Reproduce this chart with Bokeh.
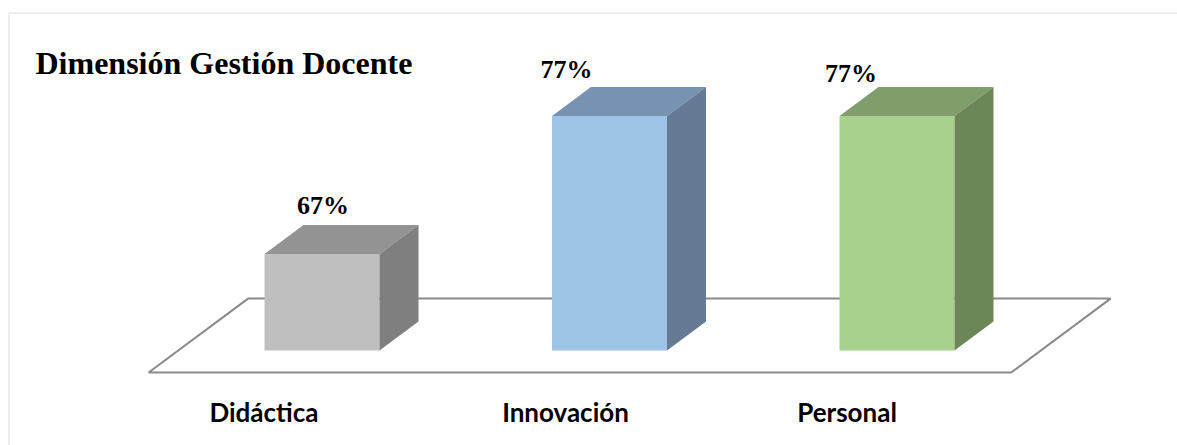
from bokeh.plotting import figure
from bokeh.models import Range1d, BoxAnnotation
from bokeh.core.properties import value
from bokeh.embed import file_html
from bokeh.resources import INLINE

# ---- data ----
categories = ["Didáctica", "Innovación", "Personal"]
percentages = [67, 77, 77]
value_labels = ["67%", "77%", "77%"]
title_text = "Dimensión Gestión Docente"
axis_floor = 60  # value at which the bars start

# ---- style / layout ----
front_colors = ["#BFBFBF", "#9DC3E6", "#A9D18E"]
top_colors = ["#939393", "#7893B1", "#809E6C"]
side_colors = ["#7F7F7F", "#647B93", "#6C8658"]

W, H = 1177, 445
PX_X = 287.5      # pixels per category step
PX_Y = 13.8       # pixels per percentage point
X0_PX = 321.5     # screen x of first category
BASE_PX = 350     # screen y of the value axis_floor

x_start = -X0_PX / PX_X
x_end = (W - X0_PX) / PX_X
y_top = axis_floor + BASE_PX / PX_Y
y_bot = axis_floor - (H - BASE_PX) / PX_Y

half_w = 0.2
ddx = 39 / PX_X        # depth offset in x (data units)
ddy = 29 / PX_Y        # depth offset in y (data units)
floor_front = -0.76    # floor depth extents in bar-depth units
floor_back = 1.79

p = figure(width=W, height=H, output_backend="svg", toolbar_location=None,
           x_range=Range1d(x_start, x_end), y_range=Range1d(y_bot, y_top),
           min_border=0, outline_line_color=None)
p.xaxis.visible = False
p.yaxis.visible = False
p.xgrid.visible = False
p.ygrid.visible = False
p.background_fill_color = "white"
p.border_fill_color = "white"

# outer chart border (left & top visible)
p.add_layout(BoxAnnotation(left=x_start + 8.5 / PX_X, right=x_end + 1,
                           top=y_top - 12.5 / PX_Y, bottom=y_bot - 1,
                           fill_alpha=0, line_color="#8A8A8A", line_width=1))

# floor parallelogram
n = len(categories)
fl, fr = -0.5, n - 0.5
floor_x = [fl + floor_front * ddx, fr + floor_front * ddx,
           fr + floor_back * ddx, fl + floor_back * ddx]
floor_y = [axis_floor + floor_front * ddy, axis_floor + floor_front * ddy,
           axis_floor + floor_back * ddy, axis_floor + floor_back * ddy]
p.patch(floor_x, floor_y, fill_color="white", line_color="#8A8A8A", line_width=2)

# bars
xs_idx = list(range(n))
front_l = [i - half_w for i in xs_idx]
front_r = [i + half_w for i in xs_idx]
p.quad(left=front_l, right=front_r, bottom=[axis_floor] * n, top=percentages,
       fill_color=front_colors, line_color=None)

top_xs = [[l, r, r + ddx, l + ddx] for l, r in zip(front_l, front_r)]
top_ys = [[v, v, v + ddy, v + ddy] for v in percentages]
p.patches(top_xs, top_ys, fill_color=top_colors, line_color=None)

side_xs = [[r, r + ddx, r + ddx, r] for r in front_r]
side_ys = [[axis_floor, axis_floor + ddy, v + ddy, v] for v in percentages]
p.patches(side_xs, side_ys, fill_color=side_colors, line_color=None)

# value labels
p.text(x=xs_idx, y=percentages, text=value_labels,
       x_offset=[1, -43, -46], y_offset=[-48, -46, -42],
       text_align="center", text_baseline="alphabetic",
       text_font=value("Liberation Serif"), text_font_style="bold",
       text_font_size="26px", text_color="black")

# category labels
cat_y = axis_floor - (411 - BASE_PX) / PX_Y
p.text(x=xs_idx, y=[cat_y] * n, text=categories,
       x_offset=[-58, -44, -50], text_align="center", text_baseline="alphabetic",
       text_font=value("Lato"), text_font_style="bold",
       text_font_size="26px", text_color="black")

# title
p.text(x=[x_start + 35 / PX_X], y=[y_top - 62 / PX_Y], text=[title_text],
       text_align="left", text_baseline="alphabetic",
       text_font=value("Liberation Serif"), text_font_style="bold",
       text_font_size="32px", text_color="black")

open("out.html", "w").write(file_html(p, INLINE))
